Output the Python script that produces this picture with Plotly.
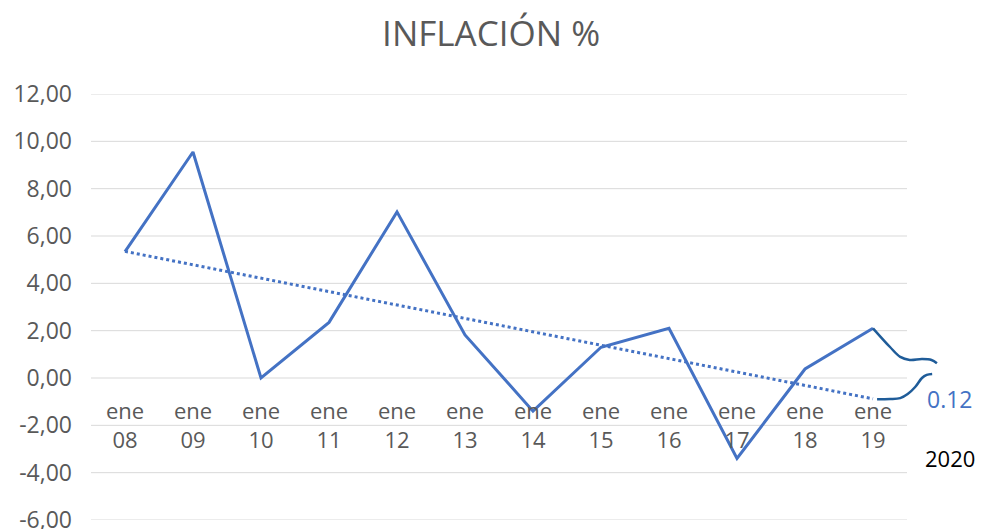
import plotly.graph_objects as go

# datos
years = ['08', '09', '10', '11', '12', '13', '14', '15', '16', '17', '18', '19']
inflation = [5.34, 9.55, 0.0, 2.35, 7.02, 1.82, -1.40, 1.30, 2.10, -3.40, 0.38, 2.10]
trend_x = [0, 11]
trend_y = [5.35, -0.88]
y_ticks = [-6, -4, -2, 0, 2, 4, 6, 8, 10, 12]

# trazos a mano alzada (anotaciones despues de ene 19)
curve_a_x = [11.0, 11.25, 11.40, 11.54, 11.72, 11.86, 11.94]
curve_a_y = [2.10, 1.31, 0.89, 0.76, 0.80, 0.76, 0.62]
curve_b_x = [11.06, 11.25, 11.40, 11.51, 11.62, 11.72, 11.79, 11.87]
curve_b_y = [-0.90, -0.89, -0.85, -0.68, -0.38, 0.0, 0.13, 0.17]

BLUE = '#4472C4'
DARK_BLUE = '#1F5C99'
GRAY = '#595959'
GRID = '#D9D9D9'
FONT = 'Open Sans'

x_idx = list(range(len(years)))
# formato estilo Excel: coma decimal y guion normal
y_text = [f'{t:.2f}'.replace('.', ',') for t in y_ticks]

fig = go.Figure()

fig.add_trace(go.Scatter(
    x=x_idx, y=inflation,
    mode='lines',
    line=dict(color=BLUE, width=3),
    showlegend=False
))
fig.add_trace(go.Scatter(
    x=trend_x, y=trend_y,
    mode='lines',
    line=dict(color=BLUE, width=3, dash='dot'),
    showlegend=False
))
for cx, cy in [(curve_a_x, curve_a_y), (curve_b_x, curve_b_y)]:
    fig.add_trace(go.Scatter(
        x=cx, y=cy,
        mode='lines',
        line=dict(color=DARK_BLUE, width=2.5, shape='spline'),
        showlegend=False
    ))

# lineas de cuadricula solo sobre el area de categorias
for t in y_ticks:
    fig.add_shape(type='line', xref='x', yref='y',
                  x0=-0.5, x1=len(years) - 0.5, y0=t, y1=t,
                  line=dict(color=GRID, width=1), layer='below')

fig.add_annotation(x=11.76, y=-0.9, xref='x', yref='y', text='0.12',
                   showarrow=False, xanchor='left', yanchor='middle',
                   font=dict(family=FONT, size=23, color=BLUE))
fig.add_annotation(x=11.74, y=-3.4, xref='x', yref='y', text='2020',
                   showarrow=False, xanchor='left', yanchor='middle',
                   font=dict(family=FONT, size=22, color='black'))

# la pagina deja 8px de margen en el body: figura algo mas pequena
fig.update_layout(
    width=978, height=521,
    paper_bgcolor='white', plot_bgcolor='white',
    margin=dict(l=83, r=40, t=86, b=9),
    font=dict(family=FONT, color=GRAY),
    title=dict(text='INFLACIÓN %', x=0.494, xref='container', xanchor='center',
               y=0.950, yref='container', yanchor='middle',
               font=dict(family=FONT, size=35, color=GRAY)),
    xaxis=dict(
        range=[-0.5, -0.5 + 855 / 68],
        tickmode='array', tickvals=x_idx,
        ticktext=['ene<br>' + y for y in years],
        showgrid=False, zeroline=False, showline=False,
        anchor='free', position=6 / 18,
        automargin=False,
        ticklabelstandoff=18,
        tickfont=dict(family=FONT, size=22, color=GRAY)
    ),
    yaxis=dict(
        range=[-6, 12],
        tickmode='array', tickvals=y_ticks, ticktext=y_text,
        showgrid=False, zeroline=False, showline=False,
        automargin=False,
        ticklabeloverflow='allow',
        ticklabelstandoff=18,
        tickfont=dict(family=FONT, size=23, color=GRAY)
    )
)

fig.write_html('out.html')
